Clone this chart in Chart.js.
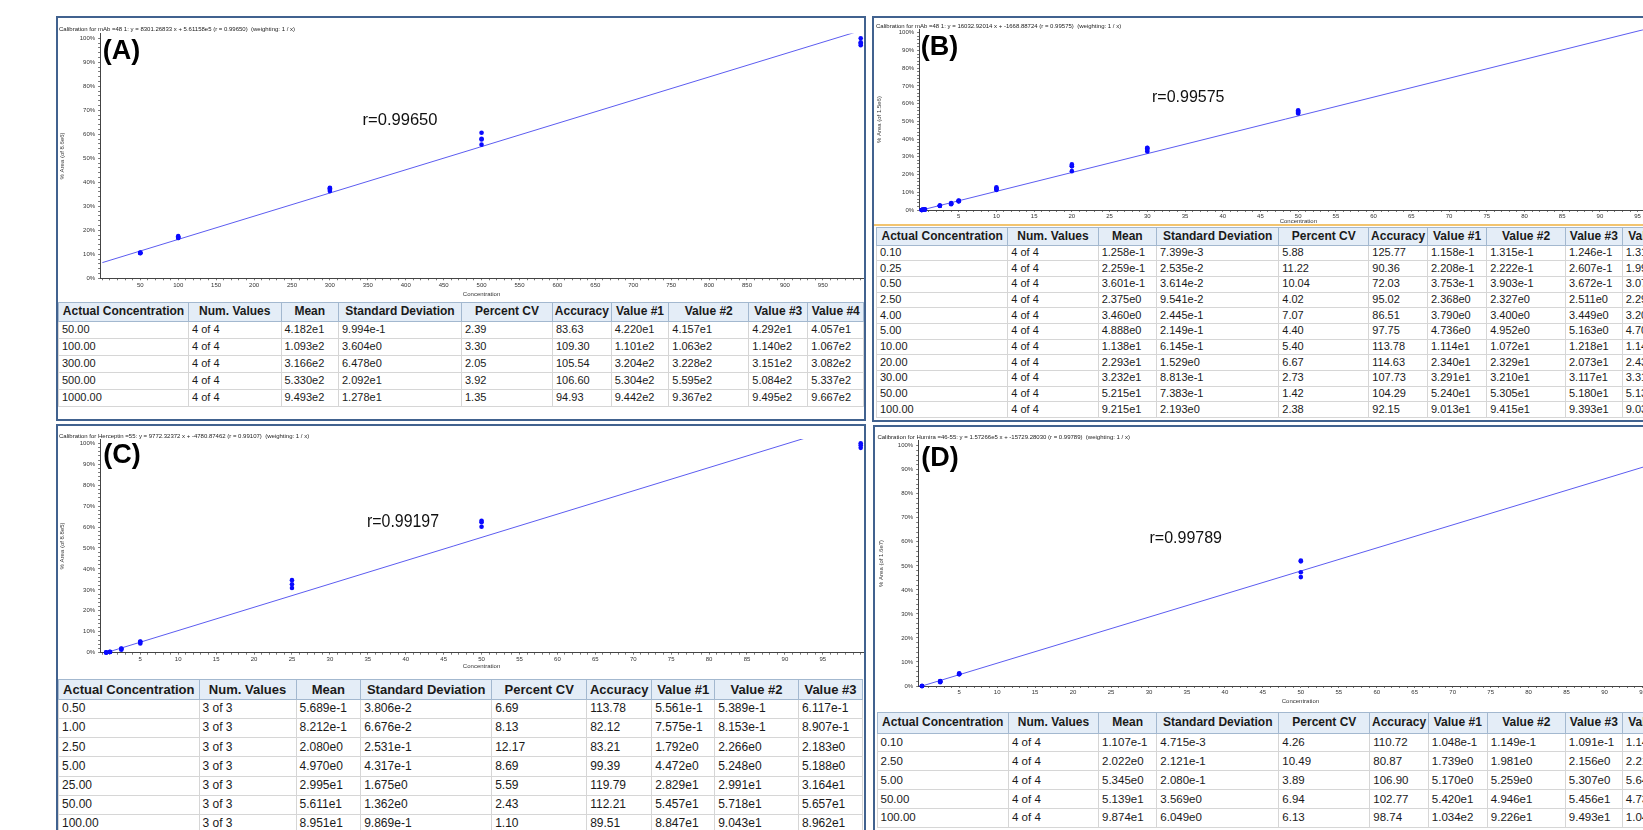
<!DOCTYPE html>
<html>
<head>
<meta charset="utf-8">
<script src="https://cdn.jsdelivr.net/npm/chart.js@4.4.1/dist/chart.umd.min.js"></script>
<style>
html, body { margin: 0; padding: 0; background: #fff; overflow: hidden; }
body { width: 1643px; height: 830px; position: relative; font-family: "Liberation Sans", Arial, sans-serif; }
.panel { position: absolute; border: 2px solid #41628f; box-sizing: border-box; background: #fff; }
canvas { position: absolute; }
table.cal { position: absolute; border-collapse: collapse; table-layout: fixed; color: #1a1a1a; }
table.cal th { background: #e4edf7; font-weight: bold; text-align: center; border: 1px solid #a3b8cf; padding: 0; white-space: nowrap; overflow: hidden; }
table.cal td { border: 1px solid #d6d6d6; padding: 0 0 0 3px; text-align: left; white-space: nowrap; overflow: hidden; }
.rule { position: absolute; height: 2px; background: #f2c46f; }
</style>
</head>
<body>
<div class="panel" style="left:56px;top:16px;width:810px;height:405px"></div>
<div class="panel" style="left:872px;top:16px;width:812px;height:406px"></div>
<div class="panel" style="left:56px;top:424px;width:810px;height:420px"></div>
<div class="panel" style="left:873px;top:425px;width:812px;height:420px"></div>
<div class="rule" style="left:874px;top:224px;width:810px"></div>

<script>
// ---- calibration data: nominal concentrations and replicate responses (% of max area) ----
const concA = [50, 100, 300, 500, 1000];
const areaA = [
  [10.62, 10.55, 10.69, 10.46],
  [17.18, 16.81, 17.56, 16.85],
  [37.51, 37.75, 37.00, 36.33],
  [57.82, 60.63, 55.69, 58.14],
  [97.82, 97.10, 98.34, 100.00]
];
const fitXA = [0, 1000];
const fitYA = [6.54, 103.22];

const concB = [0.1, 0.25, 0.5, 2.5, 4, 5, 10, 20, 30, 50, 100];
const areaB = [
  [0.01, 0.03, 0.02, 0.03],
  [0.12, 0.13, 0.17, 0.10],
  [0.29, 0.30, 0.28, 0.22],
  [2.41, 2.36, 2.56, 2.33],
  [3.92, 3.50, 3.56, 3.29],
  [4.93, 5.15, 5.38, 4.89],
  [11.73, 11.29, 12.84, 12.10],
  [24.77, 24.65, 21.93, 25.73],
  [34.88, 34.02, 33.03, 35.08],
  [55.61, 56.30, 54.97, 54.49],
  [95.73, 100.00, 99.77, 96.00]
];
const fitXB = [0, 100];
const fitYB = [-0.11, 106.22];

const concC = [0.5, 1, 2.5, 5, 25, 50, 100];
const areaC = [
  [0.07, 0.06, 0.14],
  [0.30, 0.36, 0.45],
  [1.45, 1.98, 1.88],
  [4.43, 5.29, 5.22],
  [30.91, 32.71, 34.64],
  [60.13, 63.03, 62.35],
  [97.82, 100.00, 99.10]
];
const fitXC = [0, 100];
const fitYC = [-0.54, 110.64];

const concD = [0.1, 2.5, 5, 50, 100];
const areaD = [
  [0.005, 0.014, 0.009, 0.013],
  [1.57, 1.80, 1.97, 2.03],
  [4.86, 4.95, 4.99, 5.32],
  [51.88, 47.34, 52.23, 45.31],
  [99.41, 88.39, 90.95, 100.00]
];
const fitXD = [0, 100];
const fitYD = [-0.10, 95.81];

// ---- axis tick labels ----
const xMajorA = [50, 100, 150, 200, 250, 300, 350, 400, 450, 500, 550, 600, 650, 700, 750, 800, 850, 900, 950];
const xMajorSmall = [5, 10, 15, 20, 25, 30, 35, 40, 45, 50, 55, 60, 65, 70, 75, 80, 85, 90, 95];
const yMajor = [0, 10, 20, 30, 40, 50, 60, 70, 80, 90, 100];

// ---- header texts and result tables ----
const titleA = 'Calibration for mAb =48 1: y = 8301.26833 x + 5.61158e5 (r = 0.99650)  (weighting: 1 / x)';
const titleB = 'Calibration for mAb =48 1: y = 16032.92014 x + -1668.88724 (r = 0.99575)  (weighting: 1 / x)';
const titleC = 'Calibration for Herceptin =55: y = 9772.32372 x + -4780.87462 (r = 0.99107)  (weighting: 1 / x)';
const titleD = 'Calibration for Humira =46-55: y = 1.57266e5 x + -15729.28030 (r = 0.99789)  (weighting: 1 / x)';
const yTitles = ['% Area (of 8.6e6)', '% Area (of 1.5e6)', '% Area (of 8.8e5)', '% Area (of 1.6e7)'];
const rLabels = ['r=0.99650', 'r=0.99575', 'r=0.99197', 'r=0.99789'];
const panelTags = ['(A)', '(B)', '(C)', '(D)'];

const headers4 = ['Actual Concentration', 'Num. Values', 'Mean', 'Standard Deviation', 'Percent CV', 'Accuracy', 'Value #1', 'Value #2', 'Value #3', 'Value #4'];
const headers3 = headers4.slice(0, 9);

const tableA = [
  ['50.00', '4 of 4', '4.182e1', '9.994e-1', '2.39', '83.63', '4.220e1', '4.157e1', '4.292e1', '4.057e1'],
  ['100.00', '4 of 4', '1.093e2', '3.604e0', '3.30', '109.30', '1.101e2', '1.063e2', '1.140e2', '1.067e2'],
  ['300.00', '4 of 4', '3.166e2', '6.478e0', '2.05', '105.54', '3.204e2', '3.228e2', '3.151e2', '3.082e2'],
  ['500.00', '4 of 4', '5.330e2', '2.092e1', '3.92', '106.60', '5.304e2', '5.595e2', '5.084e2', '5.337e2'],
  ['1000.00', '4 of 4', '9.493e2', '1.278e1', '1.35', '94.93', '9.442e2', '9.367e2', '9.495e2', '9.667e2']
];
const tableB = [
  ['0.10', '4 of 4', '1.258e-1', '7.399e-3', '5.88', '125.77', '1.158e-1', '1.315e-1', '1.246e-1', '1.313e-1'],
  ['0.25', '4 of 4', '2.259e-1', '2.535e-2', '11.22', '90.36', '2.208e-1', '2.222e-1', '2.607e-1', '1.999e-1'],
  ['0.50', '4 of 4', '3.601e-1', '3.614e-2', '10.04', '72.03', '3.753e-1', '3.903e-1', '3.672e-1', '3.076e-1'],
  ['2.50', '4 of 4', '2.375e0', '9.541e-2', '4.02', '95.02', '2.368e0', '2.327e0', '2.511e0', '2.294e0'],
  ['4.00', '4 of 4', '3.460e0', '2.445e-1', '7.07', '86.51', '3.790e0', '3.400e0', '3.449e0', '3.201e0'],
  ['5.00', '4 of 4', '4.888e0', '2.149e-1', '4.40', '97.75', '4.736e0', '4.952e0', '5.163e0', '4.701e0'],
  ['10.00', '4 of 4', '1.138e1', '6.145e-1', '5.40', '113.78', '1.114e1', '1.072e1', '1.218e1', '1.148e1'],
  ['20.00', '4 of 4', '2.293e1', '1.529e0', '6.67', '114.63', '2.340e1', '2.329e1', '2.073e1', '2.430e1'],
  ['30.00', '4 of 4', '3.232e1', '8.813e-1', '2.73', '107.73', '3.291e1', '3.210e1', '3.117e1', '3.310e1'],
  ['50.00', '4 of 4', '5.215e1', '7.383e-1', '1.42', '104.29', '5.240e1', '5.305e1', '5.180e1', '5.135e1'],
  ['100.00', '4 of 4', '9.215e1', '2.193e0', '2.38', '92.15', '9.013e1', '9.415e1', '9.393e1', '9.039e1']
];
const tableC = [
  ['0.50', '3 of 3', '5.689e-1', '3.806e-2', '6.69', '113.78', '5.561e-1', '5.389e-1', '6.117e-1'],
  ['1.00', '3 of 3', '8.212e-1', '6.676e-2', '8.13', '82.12', '7.575e-1', '8.153e-1', '8.907e-1'],
  ['2.50', '3 of 3', '2.080e0', '2.531e-1', '12.17', '83.21', '1.792e0', '2.266e0', '2.183e0'],
  ['5.00', '3 of 3', '4.970e0', '4.317e-1', '8.69', '99.39', '4.472e0', '5.248e0', '5.188e0'],
  ['25.00', '3 of 3', '2.995e1', '1.675e0', '5.59', '119.79', '2.829e1', '2.991e1', '3.164e1'],
  ['50.00', '3 of 3', '5.611e1', '1.362e0', '2.43', '112.21', '5.457e1', '5.718e1', '5.657e1'],
  ['100.00', '3 of 3', '8.951e1', '9.869e-1', '1.10', '89.51', '8.847e1', '9.043e1', '8.962e1']
];
const tableD = [
  ['0.10', '4 of 4', '1.107e-1', '4.715e-3', '4.26', '110.72', '1.048e-1', '1.149e-1', '1.091e-1', '1.140e-1'],
  ['2.50', '4 of 4', '2.022e0', '2.121e-1', '10.49', '80.87', '1.739e0', '1.981e0', '2.156e0', '2.212e0'],
  ['5.00', '4 of 4', '5.345e0', '2.080e-1', '3.89', '106.90', '5.170e0', '5.259e0', '5.307e0', '5.644e0'],
  ['50.00', '4 of 4', '5.139e1', '3.569e0', '6.94', '102.77', '5.420e1', '4.946e1', '5.456e1', '4.734e1'],
  ['100.00', '4 of 4', '9.874e1', '6.049e0', '6.13', '98.74', '1.034e2', '9.226e1', '9.493e1', '1.044e2']
];

// ---- drawing ----
const FONT = '"Liberation Sans", Arial, sans-serif';
Chart.defaults.font.family = FONT;

function textPlugin(items) {
  return {
    id: 'panelText',
    afterDraw(chart) {
      const ctx = chart.ctx;
      items.forEach(it => {
        ctx.save();
        ctx.font = it.font;
        ctx.fillStyle = it.color || '#000';
        ctx.textAlign = it.align || 'left';
        ctx.textBaseline = 'middle';
        if (it.maxWidth) ctx.fillText(it.text, it.x, it.y, it.maxWidth);
        else ctx.fillText(it.text, it.x, it.y);
        ctx.restore();
      });
    }
  };
}

function stepValues(min, max, step) {
  const out = [];
  for (let v = Math.ceil(min / step) * step; v <= max + 1e-9; v += step) out.push(Math.round(v * 1000) / 1000);
  return out;
}

function makeChart(c) {
  const cv = document.createElement('canvas');
  cv.width = c.w; cv.height = c.h;
  cv.style.left = c.left + 'px'; cv.style.top = c.top + 'px';
  cv.style.width = c.w + 'px'; cv.style.height = c.h + 'px';
  document.body.appendChild(cv);

  const pts = [];
  c.conc.forEach((x, i) => c.area[i].forEach(y => pts.push({ x, y })));
  const fit = c.fitX.map((x, i) => ({ x, y: c.fitY[i] }));
  const xTickVals = stepValues(c.xMin, c.xMax, c.xStep);
  const yTickVals = stepValues(0, 100, 2);

  const items = [
    { text: c.title, x: c.titleX - c.left, y: c.titleY - c.top, font: '6px ' + FONT, color: '#222', maxWidth: c.titleW },
    { text: c.tag, x: c.tagX - c.left, y: c.tagY - c.top, font: 'bold 27px ' + FONT, color: '#000', align: 'center' },
    { text: c.rText, x: c.rX - c.left, y: c.rY - c.top, font: c.rFont, color: '#111', maxWidth: c.rW }
  ];

  new Chart(cv, {
    type: 'scatter',
    data: {
      datasets: [
        { type: 'line', data: fit, borderColor: '#5c5cf0', borderWidth: 1, pointRadius: 0, fill: false, tension: 0, order: 2 },
        { type: 'scatter', data: pts, backgroundColor: '#0a0aff', borderColor: '#0a0aff', borderWidth: 0, pointRadius: 2.3, clip: false, order: 1 }
      ]
    },
    options: {
      responsive: false, animation: false, events: [], devicePixelRatio: 1,
      layout: { autoPadding: false, padding: { left: 0, top: c.plotTop - c.top, right: c.left + c.w - c.plotRight, bottom: 0 } },
      plugins: { legend: { display: false }, tooltip: { enabled: false } },
      scales: {
        x: {
          type: 'linear', min: c.xMin, max: c.xMax,
          afterFit: s => { s.height = c.top + c.h - c.plotBottom; },
          afterBuildTicks: s => { s.ticks = xTickVals.map(v => ({ value: v })); },
          ticks: { autoSkip: false, maxRotation: 0, minRotation: 0, padding: 1, color: '#333', font: { size: 6 },
                   callback: v => (c.xMajor.includes(v) ? String(v) : '') },
          grid: { drawOnChartArea: false, drawTicks: true, tickLength: 2, color: '#777' },
          border: { display: true, color: '#444', width: 1 },
          title: { display: true, text: 'Concentration', color: '#333', font: { size: 6 }, padding: { top: 0, bottom: c.xTitlePad } }
        },
        y: {
          type: 'linear', min: 0, max: 102,
          afterFit: s => { s.width = c.plotLeft - c.left; },
          afterBuildTicks: s => { s.ticks = yTickVals.map(v => ({ value: v })); },
          ticks: { autoSkip: false, padding: 3, color: '#333', font: { size: 6 },
                   callback: v => (yMajor.includes(v) ? v + '%' : '') },
          grid: { drawOnChartArea: false, drawTicks: true, tickLength: 2, color: '#777' },
          border: { display: true, color: '#444', width: 1 },
          title: { display: true, text: c.yTitle, color: '#333', font: { size: 6 }, padding: { top: 0.5, bottom: 0 } }
        }
      }
    },
    plugins: [textPlugin(items)]
  });
}

makeChart({
  left: 58, top: 18, w: 807, h: 282,
  plotLeft: 100.1, plotRight: 863, plotTop: 33.5, plotBottom: 278.3,
  xMin: -3, xMax: 1003, xStep: 10, xMajor: xMajorA, xTitlePad: 2,
  conc: concA, area: areaA, fitX: fitXA, fitY: fitYA, yTitle: yTitles[0],
  title: titleA, titleX: 59, titleY: 29.7, titleW: 248,
  tag: panelTags[0], tagX: 121.5, tagY: 51.5,
  rText: rLabels[0], rX: 362.5, rY: 120.5, rFont: '17px ' + FONT, rW: 75
});
makeChart({
  left: 875, top: 18, w: 805, h: 207,
  plotLeft: 919.1, plotRight: 1677.6, plotTop: 29.2, plotBottom: 210,
  xMin: -0.25, xMax: 100.3, xStep: 1, xMajor: xMajorSmall, xTitlePad: 0.2,
  conc: concB, area: areaB, fitX: fitXB, fitY: fitYB, yTitle: yTitles[1],
  title: titleB, titleX: 876, titleY: 26.7, titleW: 258,
  tag: panelTags[1], tagX: 939.5, tagY: 47.5,
  rText: rLabels[1], rX: 1152, rY: 97.5, rFont: '16px ' + FONT, rW: 75
});
makeChart({
  left: 58, top: 427, w: 807, h: 245,
  plotLeft: 100.1, plotRight: 863, plotTop: 439.1, plotBottom: 652.7,
  xMin: -0.3, xMax: 100.3, xStep: 1, xMajor: xMajorSmall, xTitlePad: 1.7,
  conc: concC, area: areaC, fitX: fitXC, fitY: fitYC, yTitle: yTitles[2],
  title: titleC, titleX: 59, titleY: 436, titleW: 263,
  tag: panelTags[2], tagX: 122, tagY: 455.3,
  rText: rLabels[2], rX: 367, rY: 522.5, rFont: '18px "Liberation Sans Narrow", ' + FONT, rW: 72
});
makeChart({
  left: 877, top: 428, w: 808, h: 278,
  plotLeft: 918.2, plotRight: 1682.7, plotTop: 440.9, plotBottom: 686,
  xMin: -0.4, xMax: 100.3, xStep: 1, xMajor: xMajorSmall, xTitlePad: 1.4,
  conc: concD, area: areaD, fitX: fitXD, fitY: fitYD, yTitle: yTitles[3],
  title: titleD, titleX: 877.4, titleY: 437.3, titleW: 266,
  tag: panelTags[3], tagX: 940, tagY: 459,
  rText: rLabels[3], rX: 1149.5, rY: 538.3, rFont: '16px ' + FONT, rW: 75
});

function makeTable(t) {
  const tb = document.createElement('table');
  tb.className = 'cal';
  tb.style.left = t.left + 'px';
  tb.style.top = t.top + 'px';
  tb.style.width = t.widths.reduce((a, b) => a + b, 0) + 'px';
  const cg = document.createElement('colgroup');
  t.widths.forEach(w => { const col = document.createElement('col'); col.style.width = w + 'px'; cg.appendChild(col); });
  tb.appendChild(cg);
  const hr = document.createElement('tr');
  hr.style.height = t.headH + 'px';
  t.headers.forEach(h => {
    const th = document.createElement('th');
    th.textContent = h;
    th.style.fontSize = t.headFont + 'px';
    th.style.lineHeight = (t.headH - 2) + 'px';
    hr.appendChild(th);
  });
  tb.appendChild(hr);
  t.rows.forEach(r => {
    const tr = document.createElement('tr');
    tr.style.height = t.rowH + 'px';
    r.forEach(v => {
      const td = document.createElement('td');
      td.textContent = v;
      td.style.fontSize = t.cellFont + 'px';
      td.style.lineHeight = (t.rowH - 2) + 'px';
      tr.appendChild(td);
    });
    tb.appendChild(tr);
  });
  document.body.appendChild(tb);
}

makeTable({ left: 58, top: 301.5, widths: [130, 92.5, 57.5, 123, 91, 58.7, 57.6, 80, 59, 56],
  headH: 19, rowH: 17, headFont: 12, cellFont: 11, headers: headers4, rows: tableA });
makeTable({ left: 876, top: 226.5, widths: [131.3, 90.4, 58.3, 122.3, 90, 58.7, 59.2, 78.8, 56.8, 60],
  headH: 18, rowH: 15.7, headFont: 12, cellFont: 11, headers: headers4, rows: tableB });
makeTable({ left: 58, top: 679.3, widths: [140.5, 97, 64.7, 131, 95, 65, 63, 83.7, 64.2],
  headH: 19.5, rowH: 19.2, headFont: 13, cellFont: 12, headers: headers3, rows: tableC });
makeTable({ left: 876.5, top: 711.7, widths: [131.5, 90, 58.3, 122, 91, 58.5, 59, 78, 57, 60],
  headH: 21, rowH: 18.8, headFont: 12, cellFont: 11.5, headers: headers4, rows: tableD });
</script>
</body>
</html>
